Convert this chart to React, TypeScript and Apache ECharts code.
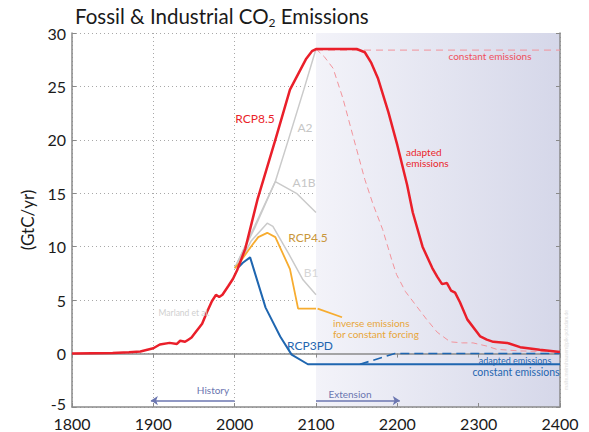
import React, { useEffect, useRef } from "react";
import * as echarts from "echarts";

const xTicks = [1800, 1900, 2000, 2100, 2200, 2300, 2400];
const yTicks = [-5, 0, 5, 10, 15, 20, 25, 30];

// RCP8.5 incl. historical and adapted emissions (solid red)
const rcp85Years = [1800, 1850, 1870, 1884, 1900, 1908, 1920, 1929, 1933, 1939, 1943, 1947, 1950, 1960, 1966, 1972, 1977, 1981, 1985, 1992, 1998, 2003, 2013, 2028, 2050, 2068, 2088, 2095, 2100, 2150, 2160, 2168, 2176, 2189, 2200, 2212, 2219, 2231, 2243, 2249, 2255, 2261, 2266, 2271, 2277, 2286, 2302, 2310, 2318, 2335, 2351, 2375, 2400];
const rcp85Values = [0, 0.05, 0.12, 0.2, 0.5, 0.85, 1.0, 0.9, 1.2, 1.1, 1.3, 1.5, 1.8, 2.8, 3.9, 4.9, 5.5, 5.3, 5.5, 6.3, 7.0, 7.8, 9.8, 14.4, 20.0, 24.7, 27.6, 28.3, 28.5, 28.5, 28.2, 27.2, 25.8, 22.6, 19.5, 15.8, 13.2, 10.0, 8.0, 7.2, 6.5, 6.6, 5.9, 5.7, 4.8, 3.2, 1.6, 1.3, 1.1, 1.0, 0.6, 0.35, 0.15];

// RCP8.5 adapted (thin dashed red)
const rcp85AdaptYears = [2100, 2110, 2121, 2133, 2145, 2160, 2170, 2182, 2193, 2199, 2210, 2224, 2236, 2249, 2265, 2280, 2293, 2310, 2322, 2350, 2400];
const rcp85AdaptValues = [28.5, 27.8, 26.7, 23.9, 20.5, 16.3, 14.0, 11.6, 8.8, 7.4, 5.8, 4.4, 3.2, 2.0, 1.1, 1.0, 1.0, 0.7, 0.4, 0.25, 0.15];

// RCP8.5 constant emissions (thin dashed pink)
const rcp85ConstYears = [2100, 2400];
const rcp85ConstValues = [28.4, 28.4];

// SRES scenarios (grey)
const a2Years = [2000, 2025, 2050, 2066, 2085, 2100];
const a2Values = [8.0, 12.0, 16.1, 20.0, 24.7, 28.5];
const a1bYears = [2000, 2025, 2050, 2076, 2100];
const a1bValues = [8.0, 11.8, 16.1, 15.0, 13.2];
const b1Years = [2000, 2006, 2020, 2040, 2047, 2066, 2084, 2100];
const b1Values = [8.0, 8.4, 10.5, 12.2, 11.9, 9.4, 6.9, 5.5];

// RCP4.5 (orange)
const rcp45Years = [2000, 2006, 2020, 2029, 2040, 2050, 2068, 2078, 2100];
const rcp45Values = [8.0, 8.5, 10.0, 10.9, 11.3, 10.9, 7.9, 4.2, 4.2];
const rcp45InvYears = [2102, 2132];
const rcp45InvValues = [4.2, 3.4];

// RCP3PD (blue)
const rcp3Years = [2005, 2010, 2019, 2038, 2056, 2070, 2090, 2400];
const rcp3Values = [8.1, 8.5, 9.0, 4.3, 1.6, -0.1, -1.0, -1.0];
const rcp3AdaptYears = [2154, 2197, 2400];
const rcp3AdaptValues = [-1.0, 0.0, 0.0];

const pairs = (xs: number[], ys: number[]) => xs.map((x, i) => [x, ys[i]]);

const FONT = "Lato";
const RED = "#ea1f2a";
const PINK = "#f2939b";
const ORANGE = "#f7ac2f";
const BLUE = "#1f66b0";
const GREY = "#cacaca";
const ARROW = "#6b76b0";

export default function App() {
  const ref = useRef<HTMLDivElement>(null);
  useEffect(() => {
    if (!ref.current) return;
    const chart = echarts.init(ref.current, undefined, { renderer: "svg" });
    const lineBase = (name: string, data: number[][], color: string, width: number, type: any = "solid", z = 2) => ({
      name,
      type: "line",
      data,
      showSymbol: false,
      symbol: "none",
      z,
      lineStyle: { color, width, type },
      silent: true,
    });
    const txt = (text: string, x: number, y: number, color: string, size: number, align = "left", extra: any = {}) => ({
      type: "text",
      x,
      y,
      style: { text, fill: color, fontSize: size, fontFamily: FONT, align, verticalAlign: "middle", lineHeight: size + 1, ...extra },
      z: 50,
    });
    chart.setOption({
      animation: false,
      grid: { left: 72, right: 29, top: 33, bottom: 25 },
      xAxis: [
        {
          type: "value",
          min: xTicks[0],
          max: xTicks[xTicks.length - 1],
          interval: 100,
          z: 1,
          axisLine: { show: true, onZero: false, lineStyle: { color: "#8a8a8a", width: 1.5 } },
          axisTick: { show: true, inside: true, length: 4, lineStyle: { color: "#8a8a8a" } },
          axisLabel: { color: "#1a1a1a", fontSize: 16, fontFamily: FONT, margin: 8, formatter: (v: number) => String(v) },
          splitLine: { show: true, lineStyle: { color: "#a8a8a8", type: [1, 3], width: 1 } },
        },
        {
          type: "value",
          position: "top",
          min: xTicks[0],
          max: xTicks[xTicks.length - 1],
          interval: 100,
          z: 1,
          axisLine: { show: true, lineStyle: { color: "#8a8a8a", width: 1.5 } },
          axisTick: { show: true, inside: true, length: 4, lineStyle: { color: "#8a8a8a" } },
          axisLabel: { show: false },
          splitLine: { show: false },
        },
      ],
      yAxis: [
        {
          type: "value",
          min: yTicks[0],
          max: yTicks[yTicks.length - 1],
          interval: 5,
          z: 1,
          name: "(GtC/yr)",
          nameLocation: "middle",
          nameGap: 36,
          nameTextStyle: { fontSize: 17, fontFamily: FONT, color: "#1a1a1a" },
          axisLine: { show: true, onZero: false, lineStyle: { color: "#8a8a8a", width: 1.5 } },
          axisTick: { show: true, inside: true, length: 4, lineStyle: { color: "#8a8a8a" } },
          axisLabel: {
            color: "#1a1a1a",
            fontSize: 16,
            fontFamily: FONT,
            margin: 6,
            formatter: (v: number) => (v === yTicks[0] ? `{low|${v}}` : String(v)),
            rich: { low: { fontSize: 16, fontFamily: FONT, color: "#1a1a1a", padding: [0, 0, 7, 0] } },
          },
          splitLine: { show: true, lineStyle: { color: "#a8a8a8", type: [1, 3], width: 1 } },
        },
        {
          type: "value",
          position: "right",
          min: yTicks[0],
          max: yTicks[yTicks.length - 1],
          interval: 5,
          z: 1,
          axisLine: { show: true, lineStyle: { color: "#8a8a8a", width: 1.5 } },
          axisTick: { show: true, inside: true, length: 4, lineStyle: { color: "#8a8a8a" } },
          axisLabel: { show: false },
          splitLine: { show: false },
        },
      ],
      series: [
        {
          type: "line",
          data: [],
          z: 0,
          silent: true,
          markArea: {
            silent: true,
            itemStyle: {
              color: new echarts.graphic.LinearGradient(0, 0, 1, 0, [
                { offset: 0, color: "#f3f3f9" },
                { offset: 1, color: "#d5d7e9" },
              ]),
            },
            data: [[{ coord: [2100, 30] }, { coord: [2400, -5] }]],
          },
        },
        {
          type: "line",
          data: [],
          z: 3,
          silent: true,
          markLine: {
            silent: true,
            symbol: ["none", "arrow"],
            symbolSize: [7, 7],
            label: { show: false },
            lineStyle: { color: ARROW, width: 1.5, type: "solid" },
            data: [
              [{ coord: [2000, -4.4] }, { coord: [1897, -4.4] }],
              [{ coord: [2100, -4.4] }, { coord: [2203, -4.4] }],
            ],
          },
        },
        lineBase("A2", pairs(a2Years, a2Values), GREY, 1.5),
        lineBase("A1B", pairs(a1bYears, a1bValues), GREY, 1.5),
        lineBase("B1", pairs(b1Years, b1Values), GREY, 1.5),
        lineBase("RCP8.5 constant", pairs(rcp85ConstYears, rcp85ConstValues), PINK, 1, [7, 5]),
        lineBase("RCP8.5 adapted", pairs(rcp85AdaptYears, rcp85AdaptValues), PINK, 1, [6, 4]),
        lineBase("RCP4.5", pairs(rcp45Years, rcp45Values), ORANGE, 1.8),
        lineBase("RCP4.5 inverse", pairs(rcp45InvYears, rcp45InvValues), ORANGE, 1.8),
        lineBase("RCP3PD adapted", pairs(rcp3AdaptYears, rcp3AdaptValues), BLUE, 1.6, [9, 5]),
        lineBase("RCP3PD", pairs(rcp3Years, rcp3Values), BLUE, 2),
        lineBase("RCP8.5", pairs(rcp85Years, rcp85Values), RED, 2.5, "solid", 4),
      ],
      graphic: [
        {
          type: "text",
          x: 75,
          y: 16,
          style: {
            text: "{t|Fossil & Industrial CO}{s|2}{t| Emissions}",
            fontFamily: FONT,
            verticalAlign: "middle",
            rich: {
              t: { fontSize: 20.5, fontFamily: FONT, fill: "#1a1a1a", color: "#1a1a1a" },
              s: { fontSize: 12, fontFamily: FONT, fill: "#1a1a1a", color: "#1a1a1a", padding: [13, 0, 0, 0] },
            },
          },
          z: 50,
        },
        txt("RCP8.5", 255, 118, RED, 12, "center"),
        txt("A2", 305, 127, "#c6c6c6", 12, "center"),
        txt("A1B", 304, 182, "#c6c6c6", 12, "center"),
        txt("RCP4.5", 308, 237, "#c9973b", 12, "center"),
        txt("B1", 311, 272, "#d6d6d6", 12, "center"),
        txt("inverse emissions\nfor constant forcing", 333, 328, "#e8a63a", 10),
        txt("RCP3PD", 310, 345, BLUE, 12, "center"),
        txt("constant emissions", 490, 56, "#f0505c", 10, "center"),
        txt("adapted\nemissions", 406, 157, RED, 10),
        txt("adapted emissions", 515, 360, BLUE, 9, "center"),
        txt("constant emissions", 516, 372, BLUE, 10.5, "center"),
        txt("Marland et al.", 184, 313, "#cfcfcf", 8.5, "center"),
        txt("History", 213, 390, ARROW, 10, "center"),
        txt("Extension", 350, 394, ARROW, 10, "center"),
        {
          type: "text",
          x: 566,
          y: 350,
          rotation: Math.PI / 2,
          style: { text: "malte.meinshausen@pik-potsdam.de", fill: "#dcdcdc", fontSize: 5, fontFamily: FONT, align: "center", verticalAlign: "middle" },
          z: 50,
        },
      ],
    });
    return () => chart.dispose();
  }, []);
  return <div ref={ref} style={{ width: 589, height: 432, position: "absolute", left: 0, top: 0 }} />;
}
